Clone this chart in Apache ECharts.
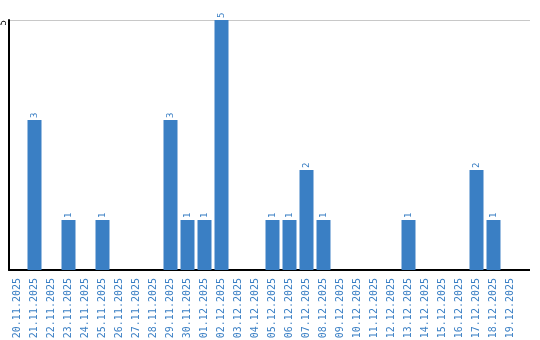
<!DOCTYPE html>
<html><head><meta charset="utf-8">
<script src="https://cdn.jsdelivr.net/npm/echarts@6/dist/echarts.min.js"></script>
<style>html,body{margin:0;padding:0;background:#fff}#c{width:540px;height:340px}</style>
</head><body><div id="c"></div>
<script>
var categories = ["20.11.2025","21.11.2025","22.11.2025","23.11.2025","24.11.2025","25.11.2025","26.11.2025","27.11.2025","28.11.2025","29.11.2025","30.11.2025","01.12.2025","02.12.2025","03.12.2025","04.12.2025","05.12.2025","06.12.2025","07.12.2025","08.12.2025","09.12.2025","10.12.2025","11.12.2025","12.12.2025","13.12.2025","14.12.2025","15.12.2025","16.12.2025","17.12.2025","18.12.2025","19.12.2025"];
var values = [0,3,0,1,0,1,0,0,0,3,1,1,5,0,0,1,1,2,1,0,0,0,0,1,0,0,0,2,1,0];
var chart = echarts.init(document.getElementById('c'));
chart.setOption({
  animation:false,
  grid:{left:9,right:21,top:20,bottom:70,outerBoundsMode:'none',containLabel:false},
  graphic:[
    {type:'line',shape:{x1:518,y1:270,x2:530,y2:270},style:{stroke:'#000',lineWidth:2}},
    {type:'line',shape:{x1:518,y1:20.5,x2:530,y2:20.5},style:{stroke:'#c8c8c8',lineWidth:1}}
  ],
  xAxis:{type:'category',data:categories,
    axisLine:{lineStyle:{color:'#000',width:2}},axisTick:{show:false},
    axisLabel:{rotate:90,interval:0,color:'#3a7fc4',fontFamily:'DejaVu Sans Mono',fontSize:10,margin:8}},
  yAxis:{type:'value',min:0,max:5,interval:5,
    axisLine:{show:true,lineStyle:{color:'#000',width:2}},axisTick:{show:false},
    splitLine:{lineStyle:{color:'#c8c8c8',width:1}},
    axisLabel:{rotate:90,align:'right',verticalAlign:'middle',color:'#000',fontFamily:'DejaVu Sans Mono',fontSize:9,margin:5,
      formatter:function(v){return v===0?'':String(v);}}},
  series:[{type:'bar',data:values,barWidth:14,itemStyle:{color:'#3a7fc4'},
    label:{show:true,position:'top',rotate:90,align:'left',verticalAlign:'middle',distance:2,color:'#3a7fc4',
      fontFamily:'DejaVu Sans Mono',fontSize:9,
      formatter:function(p){return p.value===0?'':String(p.value);}}}]
});
</script></body></html>
